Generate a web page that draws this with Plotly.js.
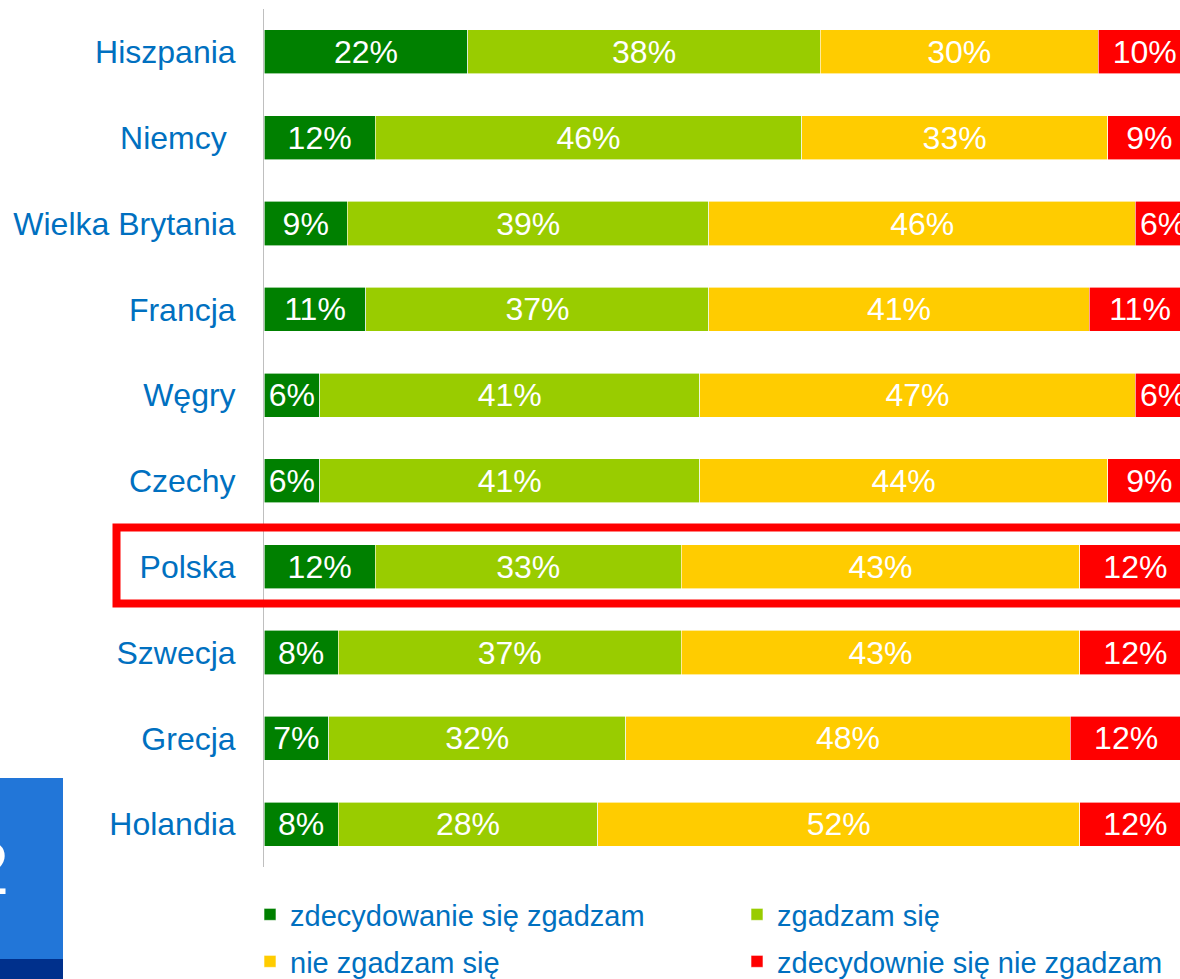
<!DOCTYPE html>
<html><head><meta charset="utf-8">
<script src="https://cdn.plot.ly/plotly-3.0.1.min.js"></script>
<style>html,body{margin:0;padding:0;overflow:hidden;background:#fff}#chart{width:1200px;height:979px}</style>
</head><body><div id="chart"></div>
<script>
// ---- data ----
const countries = ['Hiszpania','Niemcy\u00A0','Wielka Brytania','Francja','Węgry','Czechy','Polska','Szwecja','Grecja','Holandia'];
const stronglyAgree    = [22,12, 9,11, 6, 6,12, 8, 7, 8];
const agree            = [38,46,39,37,41,41,33,37,32,28];
const disagree         = [30,33,46,41,47,44,43,43,48,52];
const stronglyDisagree = [10, 9, 6,11, 6, 9,12,12,12,12];
const seriesNames = ['zdecydowanie się zgadzam','zgadzam się','nie zgadzam się','zdecydownie się nie zgadzam'];
const highlighted = 'Polska';
const boxDigit = '2';

// ---- style / geometry ----
const seriesColors = ['#008000','#99CC00','#FFCC00','#FF0000'];
const W = 1200, H = 979, L = 264, R = 9, T = 9, B = 112;
const plotW = W - L - R, plotH = H - T - B;
const px2x = p => (p - L) / plotW;
const px2y = p => (H - B - p) / plotH;
const FONT = 'Liberation Sans, Arial, sans-serif';
const BLUE_TXT = '#0070C0';

// legend slots: [left px, top px] for each series (2 columns x 2 rows)
const legendPos = [[250, 889], [737, 889], [250, 936], [737, 936]];
const legendIds = ['legend', 'legend2', 'legend3', 'legend4'];

const values = [stronglyAgree, agree, disagree, stronglyDisagree];
const traces = values.map((v, i) => ({
  type: 'bar', orientation: 'h',
  x: v, y: countries, name: seriesNames[i],
  marker: {color: seriesColors[i], line: {color: '#ffffff', width: 0.6}},
  texttemplate: '%{x}%', textposition: 'inside', insidetextanchor: 'middle',
  constraintext: 'none', cliponaxis: true,
  textfont: {family: FONT, size: 32, color: '#ffffff'},
  hoverinfo: 'skip',
  legend: legendIds[i]
}));

const hIdx = countries.indexOf(highlighted);
const rowH = plotH / countries.length;
const hCenter = T + (hIdx + 0.5) * rowH;

const layout = {
  width: W, height: H,
  margin: {l: L, r: R, t: T, b: B, pad: 0, autoexpand: false},
  paper_bgcolor: '#ffffff', plot_bgcolor: '#ffffff',
  barmode: 'stack', bargap: 0.487,
  font: {family: FONT},
  showlegend: true,
  xaxis: {range: [0, 100], visible: false, fixedrange: true},
  yaxis: {
    type: 'category', autorange: 'reversed', fixedrange: true,
    showline: true, linecolor: '#BFBFBF', linewidth: 1,
    showgrid: false, zeroline: false, ticks: '',
    ticklabelstandoff: 21,
    tickfont: {family: FONT, size: 32, color: BLUE_TXT}
  },
  shapes: [
    {type: 'rect', xref: 'paper', yref: 'paper', layer: 'above',
     x0: px2x(116.5), x1: 1.05, y0: px2y(hCenter - 39.2), y1: px2y(hCenter + 36.8),
     line: {color: '#FF0000', width: 8}, fillcolor: 'rgba(0,0,0,0)'},
    {type: 'rect', xref: 'paper', yref: 'paper', layer: 'below',
     x0: px2x(-5), x1: px2x(63), y0: px2y(985), y1: px2y(778),
     line: {width: 0}, fillcolor: '#2276D8'},
    {type: 'rect', xref: 'paper', yref: 'paper', layer: 'below',
     x0: px2x(-5), x1: px2x(63), y0: px2y(985), y1: px2y(959),
     line: {width: 0}, fillcolor: '#00308C'}
  ],
  annotations: [
    {xref: 'paper', yref: 'paper', x: px2x(11), y: px2y(868), xanchor: 'right', yanchor: 'middle',
     text: boxDigit, showarrow: false, font: {family: FONT, size: 74, color: '#ffffff'}}
  ]
};

legendIds.forEach((id, i) => {
  layout[id] = {
    orientation: 'v', xanchor: 'left', yanchor: 'top',
    x: px2x(legendPos[i][0]), y: px2y(legendPos[i][1]),
    font: {family: FONT, size: 29, color: BLUE_TXT},
    bgcolor: 'rgba(0,0,0,0)', borderwidth: 0
  };
});

Plotly.newPlot('chart', traces, layout, {displayModeBar: false, staticPlot: true});
</script>
</body></html>
